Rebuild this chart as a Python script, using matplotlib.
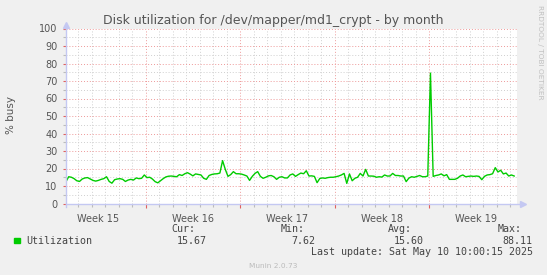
import numpy as np
import matplotlib
matplotlib.use("Agg")
import matplotlib.pyplot as plt
from matplotlib.transforms import blended_transform_factory

# utilization samples, one every 0.2 day (left to right)
util = [
    12.5, 15.3, 15.0, 14.2, 13.0, 12.6, 14.0, 14.6, 14.8, 14.0,
    13.2, 12.8, 13.2, 13.8, 14.2, 15.3, 12.6, 11.6, 13.6, 14.0,
    14.2, 13.8, 12.6, 13.4, 13.8, 13.4, 14.6, 14.2, 14.4, 16.3,
    14.8, 15.0, 14.0, 12.5, 11.8, 13.0, 14.2, 15.2, 15.6, 15.7,
    15.5, 15.3, 16.5, 16.0, 17.0, 17.6, 16.8, 15.8, 16.9, 16.6,
    16.3, 14.4, 13.8, 16.0, 16.6, 16.9, 17.0, 17.4, 24.5, 19.5,
    15.5, 16.5, 18.2, 17.0, 17.0, 16.8, 16.3, 15.7, 13.2, 15.5,
    17.2, 18.2, 15.5, 14.4, 15.0, 15.8, 16.0, 15.3, 13.8, 15.0,
    15.3, 14.6, 14.6, 16.3, 16.9, 15.5, 16.5, 17.4, 17.0, 18.7,
    15.7, 15.8, 15.5, 11.9, 14.3, 14.6, 14.4, 14.8, 15.0, 15.0,
    15.3, 15.7, 16.3, 17.2, 11.5, 16.9, 13.0, 14.4, 15.0, 17.2,
    15.7, 19.5, 15.7, 15.7, 15.6, 15.0, 15.3, 15.1, 16.3, 15.7,
    15.7, 17.2, 16.0, 16.0, 15.7, 15.7, 12.5, 14.5, 15.3, 15.0,
    15.5, 16.0, 15.3, 15.3, 15.7, 74.5, 15.5, 16.0, 16.3, 16.9,
    15.8, 16.5, 13.8, 13.8, 13.8, 14.4, 15.7, 16.3, 15.3, 15.5,
    15.7, 15.5, 15.7, 15.5, 13.6, 15.5, 16.3, 16.5, 17.0, 20.5,
    18.0, 19.0, 16.9, 17.4, 15.7, 16.3, 15.7,
]
step = 0.2
t = np.arange(len(util)) * step

week_labels = ["Week 15", "Week 16", "Week 17", "Week 18", "Week 19"]
week_starts = [5.9, 12.9, 19.9, 26.9]   # days from left edge
x_end = 33.41

legend_cur, legend_min, legend_avg, legend_max = "15.67", "7.62", "15.60", "88.11"
last_update = "Last update: Sat May 10 10:00:15 2025"

W, H = 547, 275
fig = plt.figure(figsize=(W / 100, H / 100), dpi=100, facecolor="#F0F0F0")
ax = fig.add_axes([66 / W, (H - 203.5) / H, 451 / W, 175 / H])
ax.set_facecolor("white")
ax.set_xlim(0, x_end)
ax.set_ylim(0, 100)

minor_col = "#CFCFCF"
major_col = "#EE9999"
axis_col = "#C4C8F2"
dot = (0, (1, 2))

# grid
days = np.arange(week_starts[0] % 1, x_end, 1.0)
for d in days:
    if not any(abs(d - w) < 1e-6 for w in week_starts):
        ax.axvline(d, color=minor_col, lw=0.7, ls=dot, zorder=1)
for w in week_starts:
    ax.axvline(w, color=major_col, lw=0.7, ls=dot, zorder=1)
for y in range(5, 100, 10):
    ax.axhline(y, color=minor_col, lw=0.7, ls=dot, zorder=1)
for y in range(10, 101, 10):
    ax.axhline(y, color=major_col, lw=0.7, ls=dot, zorder=1)

ax.plot(t, util, color="#00CC00", lw=1.0, zorder=3)

for s in ax.spines.values():
    s.set_visible(False)

# axes with arrows
ax.plot([0, 0], [-0.02, 1.01], color=axis_col, lw=1, transform=ax.transAxes, clip_on=False, zorder=4)
ax.plot([0, 1.01], [0, 0], color=axis_col, lw=1, transform=ax.transAxes, clip_on=False, zorder=4)
ax.plot([0], [1.02], marker="^", ms=5, color=axis_col, transform=ax.transAxes, clip_on=False, zorder=4)
ax.plot([1.013], [0], marker=">", ms=5, color=axis_col, transform=ax.transAxes, clip_on=False, zorder=4)

# ticks
ax.set_xticks(week_starts)
ax.set_xticks(days, minor=True)
ax.set_xticklabels([])
ax.set_yticks(range(0, 101, 10))
ax.set_yticks(range(5, 100, 10), minor=True)
ax.set_yticklabels([str(v) for v in range(0, 101, 10)], fontsize=7, color="#555555")
ax.tick_params(axis="x", which="major", length=3, width=0.8, color="#E06060", direction="out")
ax.tick_params(axis="x", which="minor", length=2, width=0.8, color="#BBBBBB", direction="out")
ax.tick_params(axis="y", which="major", length=2, width=0.8, color="#E06060", pad=4)
ax.tick_params(axis="y", which="minor", length=2, width=0.8, color="#BBBBBB")

trans = blended_transform_factory(ax.transData, ax.transAxes)
mids = [week_starts[0] - 3.5] + [w + 3.5 for w in week_starts]
for m, lab in zip(mids, week_labels):
    ax.text(m, -0.06, lab, transform=trans, ha="center", va="top", fontsize=7, color="#555555")

fig.text(11 / W, 1 - 115 / H, "% busy", rotation=90, ha="center", va="center",
         fontsize=7.5, color="#555555")

fig.text(273 / W, 1 - 20.2 / H, "Disk utilization for /dev/mapper/md1_crypt - by month",
         ha="center", va="center", fontsize=9, color="#555555")
fig.text(540 / W, 1 - 5 / H, "RRDTOOL / TOBI OETIKER", rotation=270, ha="center", va="top",
         fontsize=5.3, color="#C0C0C0")

mono = dict(family="DejaVu Sans Mono", fontsize=7.2, color="#444444", va="center")


def ft(x, y, s, **kw):
    fig.text(x / W, 1 - y / H, s, **{**mono, **kw})


fig.patches.append(plt.Rectangle((14 / W, 1 - 243.2 / H), 5.5 / W, 5.5 / H,
                                 transform=fig.transFigure, color="#00CC00", figure=fig))
ft(26.2, 240.7, "Utilization")
ft(171.7, 228.5, "Cur:")
ft(206.6, 240.7, legend_cur, ha="right")
ft(280.9, 228.5, "Min:")
ft(315.8, 240.7, legend_min, ha="right")
ft(388.3, 228.5, "Avg:")
ft(424.0, 240.7, legend_avg, ha="right")
ft(497.2, 228.5, "Max:")
ft(532.8, 240.7, legend_max, ha="right")
ft(532.8, 252.2, last_update, ha="right")
fig.text(273 / W, 1 - 265.8 / H, "Munin 2.0.73", ha="center", va="center", fontsize=5.3, color="#BBBBBB")

fig.savefig("out.png", dpi=100, facecolor=fig.get_facecolor())
